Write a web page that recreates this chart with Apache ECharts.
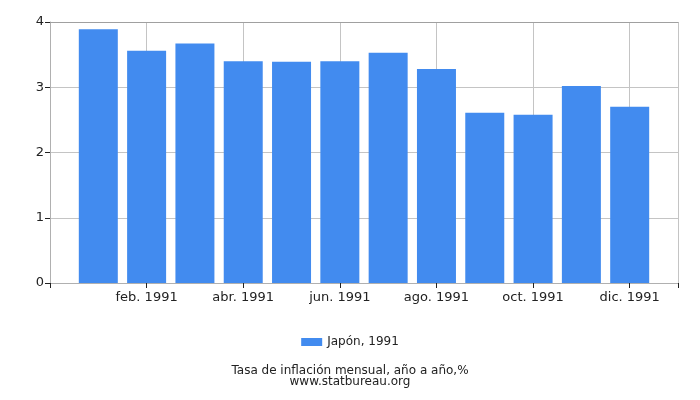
<!DOCTYPE html>
<html>
<head>
<meta charset="utf-8">
<script src="https://cdn.jsdelivr.net/npm/echarts@6/dist/echarts.min.js"></script>
<style>
  html, body { margin: 0; padding: 0; background: #fff; }
  #container { width: 700px; height: 400px; }
</style>
</head>
<body>
<div id="container"></div>
<script>
// data
var months = ['ene. 1991', 'feb. 1991', 'mar. 1991', 'abr. 1991', 'may. 1991', 'jun. 1991',
              'jul. 1991', 'ago. 1991', 'sep. 1991', 'oct. 1991', 'nov. 1991', 'dic. 1991'];
var inflation = [3.89, 3.56, 3.67, 3.40, 3.39, 3.40, 3.53, 3.28, 2.61, 2.58, 3.02, 2.70];
var seriesName = 'Japón, 1991';
var yTicks = [0, 1, 2, 3, 4];

var dom = document.getElementById('container');
var myChart = echarts.init(dom, null, { renderer: 'canvas' });

// bars placed at positions 1..12 on a 0..13 value axis
var barData = months.map(function (m, i) { return [i + 1, inflation[i]]; });

var option = {
  animation: false,
  textStyle: { fontFamily: 'DejaVu Sans' },
  grid: { left: 50, right: 22, top: 22, bottom: 117 },
  legend: {
    bottom: 47,
    left: 'center',
    icon: 'rect',
    itemWidth: 21,
    itemHeight: 8,
    itemGap: 5,
    textStyle: { fontSize: 12, color: '#222' },
    data: [seriesName]
  },
  title: {
    text: 'Tasa de inflación mensual, año a año,%\nwww.statbureau.org',
    left: 'center',
    bottom: 7,
    textStyle: { fontSize: 12, fontWeight: 'normal', color: '#222', lineHeight: 11 }
  },
  xAxis: [{
    type: 'value',
    min: 0,
    max: 13,
    interval: 2,
    axisLine: { show: true, lineStyle: { color: '#b0b0b0' } },
    axisTick: { show: true, length: 5, lineStyle: { color: '#222' } },
    axisLabel: {
      fontSize: 13, color: '#222', margin: 8,
      formatter: function (v) { return (v >= 1 && v <= 12) ? months[v - 1] : ''; }
    },
    splitLine: { show: true, lineStyle: { color: '#c4c4c4' } }
  }, {
    type: 'value',
    position: 'top',
    min: 0,
    max: 13,
    axisLine: { show: true, lineStyle: { color: '#a0a0a0' } },
    axisTick: { show: false },
    axisLabel: { show: false },
    splitLine: { show: false }
  }],
  yAxis: {
    type: 'value',
    min: yTicks[0],
    max: yTicks[yTicks.length - 1],
    interval: 1,
    axisLine: { show: true, lineStyle: { color: '#b0b0b0' } },
    axisTick: { show: true, length: 5, lineStyle: { color: '#222' } },
    axisLabel: { fontSize: 13, color: '#222', margin: 6 },
    splitLine: { show: true, lineStyle: { color: '#c4c4c4' } }
  },
  series: [{
    name: seriesName,
    type: 'bar',
    barWidth: 39,
    itemStyle: { color: '#428bef', borderRadius: 0 },
    data: barData
  }]
};

myChart.setOption(option);
window.addEventListener('resize', myChart.resize);
</script>
</body>
</html>
